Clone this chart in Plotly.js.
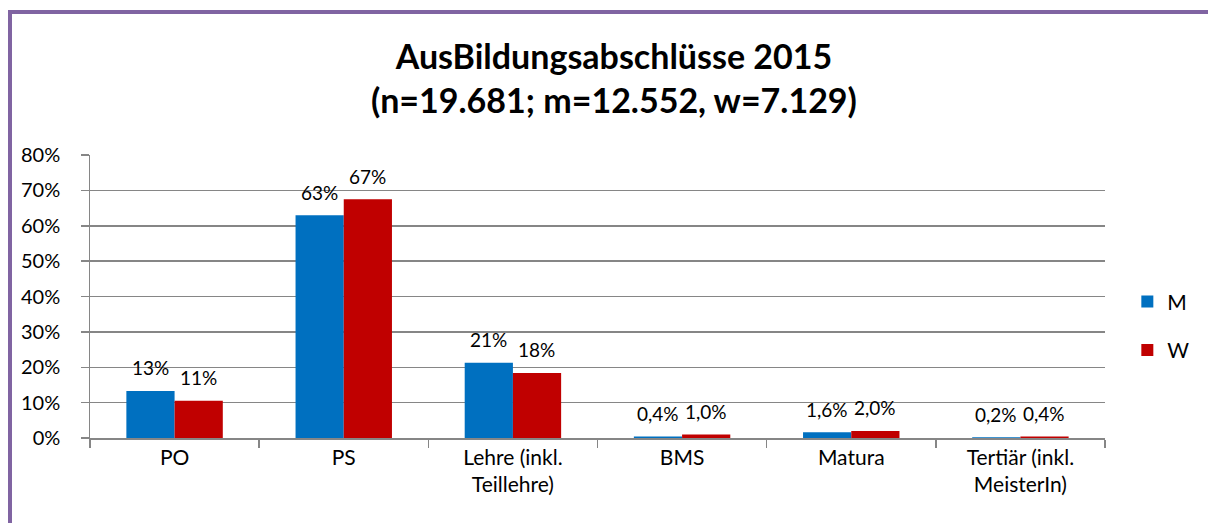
<!DOCTYPE html>
<html>
<head>
<meta charset="utf-8">
<script src="https://cdn.plot.ly/plotly-3.0.1.min.js"></script>
<style>
html,body{margin:0;padding:0;background:#fff;}
#wrap{position:relative;width:1208px;height:523px;overflow:hidden;}
#chart{position:absolute;left:0;top:0;width:1208px;height:523px;}
#frame{position:absolute;left:8px;top:10px;width:1400px;height:700px;border-left:4px solid #8064A2;border-top:4px solid #8064A2;pointer-events:none;}
</style>
</head>
<body>
<div id="wrap"><div id="chart"></div><div id="frame"></div></div>
<script>
const categories = ["PO", "PS", "Lehre (inkl.<br>Teillehre)", "BMS", "Matura", "Tertiär (inkl.<br>MeisterIn)"];
const valuesM = [0.133, 0.630, 0.213, 0.004, 0.016, 0.002];
const valuesW = [0.105, 0.675, 0.184, 0.010, 0.020, 0.004];
const labelsM = ["13%", "63%", "21%", "0,4%", "1,6%", "0,2%"];
const labelsW = ["11%", "67%", "18%", "1,0%", "2,0%", "0,4%"];
const yTicks = [0, 0.1, 0.2, 0.3, 0.4, 0.5, 0.6, 0.7, 0.8];
const yTickText = ["0%", "10%", "20%", "30%", "40%", "50%", "60%", "70%", "80%"];
const titleText = "<b>AusBildungsabschlüsse 2015<br>(n=19.681; m=12.552, w=7.129)</b>";

const FONT = "Lato, Carlito, 'Open Sans', sans-serif";
const traces = [
  {type: "bar", name: "M", legendgroup: "m", x: categories, y: valuesM,
   marker: {color: "#0070C0"}, hoverinfo: "none"},
  {type: "bar", name: "W", legendgroup: "w", x: categories, y: valuesW,
   marker: {color: "#C00000"}, hoverinfo: "none"}
];

function labelAnnotations(values, labels, shiftX) {
  return values.map((v, i) => ({
    x: categories[i], y: v, xref: "x", yref: "y", text: labels[i],
    showarrow: false, xanchor: "center", yanchor: "middle",
    xshift: shiftX, yshift: 23,
    font: {size: 19, family: FONT, color: "#000"}
  }));
}

const annotations = [
  {text: titleText, xref: "paper", yref: "paper", x: 0.516, y: 1.275,
   xanchor: "center", yanchor: "middle", showarrow: false,
   font: {size: 34, family: FONT, color: "#000"}}
].concat(labelAnnotations(valuesM, labelsM, -24), labelAnnotations(valuesW, labelsW, 24));

const layout = {
  width: 1208, height: 523,
  margin: {l: 90, r: 103, t: 155, b: 85},
  paper_bgcolor: "#fff", plot_bgcolor: "#fff",
  font: {family: FONT, color: "#000", size: 20},
  annotations: annotations,
  barmode: "group", bargap: 0.43, bargroupgap: 0,
  showlegend: true,
  legend: {x: 1.022, y: 0.396, xanchor: "left", yanchor: "middle", traceorder: "grouped",
           font: {size: 21, family: FONT}, tracegroupgap: 18, itemwidth: 30},
  xaxis: {type: "category", showgrid: false, showline: true, linecolor: "#868686", linewidth: 1.5,
          ticks: "outside", tickson: "boundaries", ticklen: 8, tickcolor: "#868686", tickwidth: 1.5,
          tickfont: {size: 21, family: FONT}},
  yaxis: {range: [0, 0.8], tickvals: yTicks, ticktext: yTickText.map(t => t + "\u00a0\u00a0"),
          showgrid: true, ticklabelstandoff: 6,
          gridcolor: "#868686", gridwidth: 1.5, showline: true, linecolor: "#868686", linewidth: 1.5,
          ticks: "outside", ticklen: 8, tickcolor: "#868686", tickwidth: 1.5,
          tickfont: {size: 20, family: FONT}, zeroline: false}
};
Plotly.newPlot("chart", traces, layout, {displayModeBar: false, staticPlot: true});
</script>
</body>
</html>
